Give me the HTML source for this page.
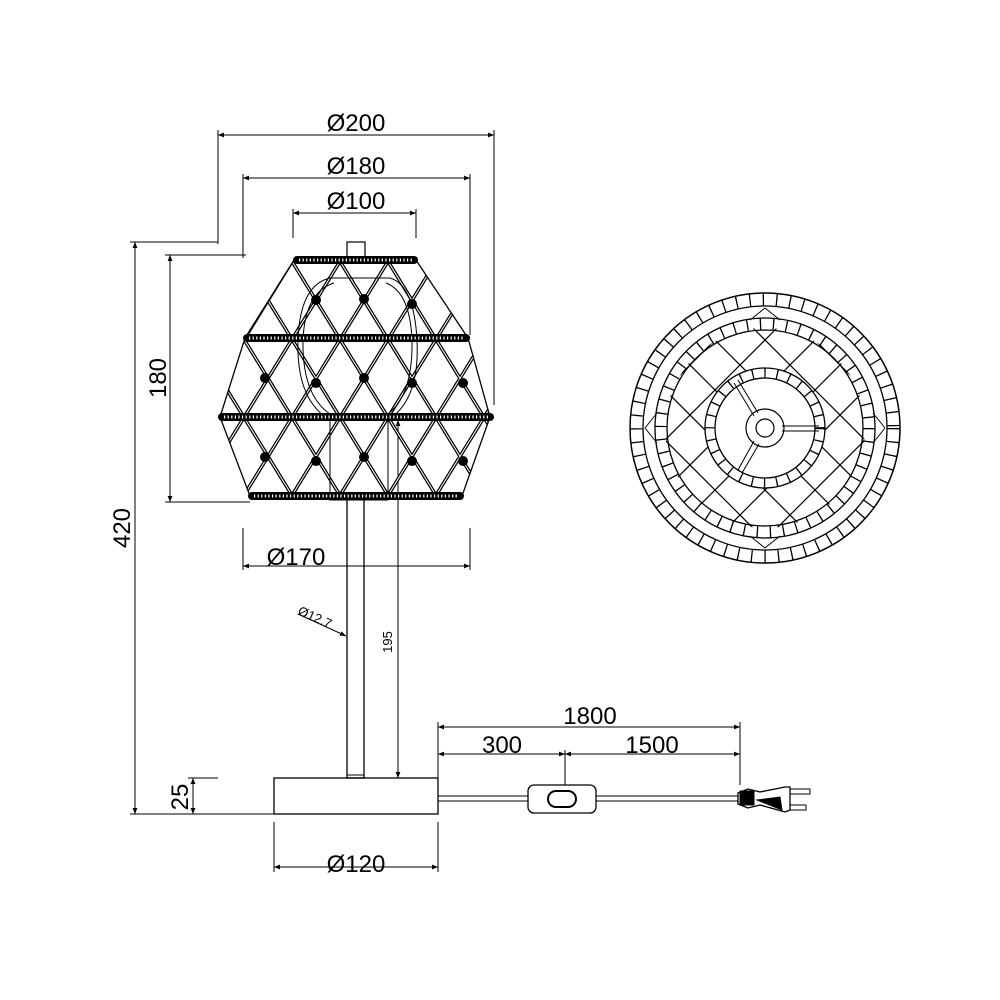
<!DOCTYPE html>
<html><head><meta charset="utf-8"><style>
html,body{margin:0;padding:0;background:#fff;}
svg{display:block;}
text{font-family:"Liberation Sans",sans-serif;fill:#000;}
</style></head><body>
<svg width="1000" height="1000" viewBox="0 0 1000 1000" xmlns="http://www.w3.org/2000/svg">
<defs>
<marker id="a" viewBox="0 0 10 10" refX="10" refY="5" markerWidth="9" markerHeight="6" orient="auto-start-reverse" markerUnits="userSpaceOnUse"><path d="M0,1 L10,5 L0,9 Z" fill="#000"/></marker>
<clipPath id="shade"><polygon points="294,260 245,338 220,417 250,496 462,496 490,417 468,338 416,260"/></clipPath>
<clipPath id="tv"><circle cx="765" cy="428" r="100"/></clipPath>
</defs>
<g stroke="#000" fill="none" stroke-width="1">
<line x1="218" y1="130" x2="218" y2="244"/><line x1="494" y1="130" x2="494" y2="405"/>
<line x1="218" y1="135" x2="494" y2="135" marker-start="url(#a)" marker-end="url(#a)"/>
<line x1="243" y1="174" x2="243" y2="258"/><line x1="470" y1="174" x2="470" y2="335"/>
<line x1="243" y1="178" x2="470" y2="178" marker-start="url(#a)" marker-end="url(#a)"/>
<line x1="293" y1="209" x2="293" y2="238"/><line x1="416" y1="209" x2="416" y2="238"/>
<line x1="293" y1="213" x2="416" y2="213" marker-start="url(#a)" marker-end="url(#a)"/>
<line x1="130" y1="242" x2="218" y2="242"/><line x1="130" y1="814" x2="274" y2="814"/>
<line x1="135" y1="242" x2="135" y2="814" marker-start="url(#a)" marker-end="url(#a)"/>
<line x1="165" y1="255" x2="246" y2="255"/><line x1="165" y1="502" x2="250" y2="502"/>
<line x1="170" y1="255" x2="170" y2="502" marker-start="url(#a)" marker-end="url(#a)"/>
<line x1="188" y1="778" x2="218" y2="778"/>
<line x1="193" y1="778" x2="193" y2="814" marker-start="url(#a)" marker-end="url(#a)"/>
<line x1="243" y1="528" x2="243" y2="570"/><line x1="470" y1="528" x2="470" y2="570"/>
<line x1="243" y1="566" x2="470" y2="566" marker-start="url(#a)" marker-end="url(#a)"/>
<line x1="364" y1="420" x2="402" y2="420"/>
<line x1="398" y1="420" x2="398" y2="778" marker-start="url(#a)" marker-end="url(#a)"/>
<line x1="298" y1="614" x2="346" y2="636" marker-end="url(#a)"/>
<line x1="274" y1="822" x2="274" y2="872"/><line x1="438" y1="822" x2="438" y2="872"/>
<line x1="274" y1="867" x2="438" y2="867" marker-start="url(#a)" marker-end="url(#a)"/>
<line x1="438" y1="722" x2="438" y2="790"/><line x1="740" y1="722" x2="740" y2="785"/>
<line x1="438" y1="727" x2="740" y2="727" marker-start="url(#a)" marker-end="url(#a)"/>
<line x1="438" y1="754" x2="565" y2="754" marker-start="url(#a)" marker-end="url(#a)"/>
<line x1="565" y1="754" x2="740" y2="754" marker-start="url(#a)" marker-end="url(#a)"/>
<line x1="565" y1="750" x2="565" y2="785"/>

<rect x="347" y="496" width="17" height="282" stroke-width="1.3"/>
<line x1="347" y1="775" x2="364" y2="775"/>
<rect x="274" y="778" width="164" height="36" stroke-width="1.3"/>
<line x1="438" y1="796" x2="528" y2="796"/><line x1="438" y1="801" x2="528" y2="801"/>
<line x1="596" y1="796" x2="738" y2="796"/><line x1="596" y1="801" x2="738" y2="801"/>
<rect x="528" y="785" width="68" height="28" rx="6" stroke-width="1.3"/>
<rect x="548" y="791" width="28" height="16" rx="8" stroke-width="2"/>
<path d="M738,793 L748,789 L760,792 L785,787 L790,787 L790,810 L785,812 L760,805 L748,808 L738,804 Z" stroke-width="1.3"/>
<rect x="740" y="791" width="14" height="14" fill="#000"/>
<path d="M757,800 L780,797 L782,810 Z" fill="#000"/>
<rect x="790" y="789" width="20" height="5"/><rect x="790" y="805" width="16" height="5"/>

<g clip-path="url(#shade)">
<g stroke-width="3.5">
<line x1="93" y1="250" x2="253" y2="510"/><line x1="141" y1="250" x2="301" y2="510"/><line x1="189" y1="250" x2="349" y2="510"/><line x1="237" y1="250" x2="397" y2="510"/><line x1="285" y1="250" x2="445" y2="510"/><line x1="333" y1="250" x2="493" y2="510"/><line x1="381" y1="250" x2="541" y2="510"/><line x1="429" y1="250" x2="589" y2="510"/>
<line x1="251" y1="250" x2="91" y2="510"/><line x1="299" y1="250" x2="139" y2="510"/><line x1="347" y1="250" x2="187" y2="510"/><line x1="395" y1="250" x2="235" y2="510"/><line x1="443" y1="250" x2="283" y2="510"/><line x1="491" y1="250" x2="331" y2="510"/><line x1="539" y1="250" x2="379" y2="510"/><line x1="587" y1="250" x2="427" y2="510"/><line x1="635" y1="250" x2="475" y2="510"/>
</g>
<g stroke="#fff" stroke-width="1">
<line x1="93" y1="250" x2="253" y2="510"/><line x1="141" y1="250" x2="301" y2="510"/><line x1="189" y1="250" x2="349" y2="510"/><line x1="237" y1="250" x2="397" y2="510"/><line x1="285" y1="250" x2="445" y2="510"/><line x1="333" y1="250" x2="493" y2="510"/><line x1="381" y1="250" x2="541" y2="510"/><line x1="429" y1="250" x2="589" y2="510"/>
<line x1="251" y1="250" x2="91" y2="510"/><line x1="299" y1="250" x2="139" y2="510"/><line x1="347" y1="250" x2="187" y2="510"/><line x1="395" y1="250" x2="235" y2="510"/><line x1="443" y1="250" x2="283" y2="510"/><line x1="491" y1="250" x2="331" y2="510"/><line x1="539" y1="250" x2="379" y2="510"/><line x1="587" y1="250" x2="427" y2="510"/><line x1="635" y1="250" x2="475" y2="510"/>
</g>
</g>
<polygon points="294,260 245,338 220,417 250,496 462,496 490,417 468,338 416,260" stroke-width="1.3"/>
<path d="M330,278 Q300,285 298,340 Q296,400 330,420 L330,500 L388,500 L388,420 Q420,400 417,340 Q414,285 390,278 Z" stroke-width="1"/>
<path d="M334,283 Q305,292 303,340 Q302,395 330,414 M388,414 Q413,395 412,340 Q410,292 386,283"/>
<rect x="347" y="242" width="18" height="18" fill="#fff" stroke-width="1.2"/>
<g fill="#000" stroke="none">
<circle cx="316" cy="300" r="5"/><circle cx="364" cy="299" r="5"/><circle cx="412" cy="304" r="5"/>
<circle cx="265" cy="378" r="5"/><circle cx="316" cy="383" r="5"/><circle cx="364" cy="378" r="5"/><circle cx="412" cy="383" r="5"/><circle cx="463" cy="383" r="5"/>
<circle cx="265" cy="457" r="5"/><circle cx="316" cy="461" r="5"/><circle cx="364" cy="457" r="5"/><circle cx="412" cy="461" r="5"/><circle cx="463" cy="461" r="5"/>
</g>
<g stroke-linecap="round">
<line x1="297" y1="260" x2="414" y2="260" stroke-width="8"/>
<line x1="247" y1="338" x2="466" y2="338" stroke-width="8"/>
<line x1="222" y1="417" x2="490" y2="417" stroke-width="8"/>
<line x1="252" y1="496" x2="460" y2="496" stroke-width="8"/>
</g>
<g stroke="#fff" stroke-width="3" stroke-dasharray="1.2 2.4">
<line x1="299" y1="260" x2="412" y2="260"/>
<line x1="249" y1="338" x2="464" y2="338"/>
<line x1="224" y1="417" x2="488" y2="417"/>
<line x1="254" y1="496" x2="458" y2="496"/>
</g>

<g clip-path="url(#tv)" stroke-width="1.2">
<line x1="765" y1="290" x2="905" y2="430"/><line x1="715" y1="290" x2="905" y2="480"/><line x1="665" y1="290" x2="905" y2="530"/><line x1="625" y1="300" x2="905" y2="580"/><line x1="625" y1="350" x2="900" y2="625"/><line x1="625" y1="400" x2="850" y2="625"/><line x1="625" y1="450" x2="800" y2="625"/><line x1="625" y1="500" x2="750" y2="625"/>
<line x1="765" y1="290" x2="625" y2="430"/><line x1="815" y1="290" x2="625" y2="480"/><line x1="865" y1="290" x2="625" y2="530"/><line x1="905" y1="300" x2="625" y2="580"/><line x1="905" y1="350" x2="630" y2="625"/><line x1="905" y1="400" x2="680" y2="625"/><line x1="905" y1="450" x2="730" y2="625"/><line x1="905" y1="500" x2="780" y2="625"/>
</g>
<path d="M765,308 L750,320 M765,308 L780,320 M765,548 L750,536 M765,548 L780,536 M645,428 L657,413 M645,428 L657,443 M885,428 L873,413 M885,428 L873,443"/>
<circle cx="765" cy="428" r="135" stroke-width="1.5"/><circle cx="765" cy="428" r="122" stroke-width="1.3"/>
<circle cx="765" cy="428" r="128.5" stroke-width="13" stroke-dasharray="1.3 12.1"/>
<circle cx="765" cy="428" r="110" stroke-width="1.3"/><circle cx="765" cy="428" r="98" stroke-width="1.3"/>
<circle cx="765" cy="428" r="104" stroke-width="12" stroke-dasharray="1.3 11.8"/>
<circle cx="765" cy="428" r="60" fill="#fff" stroke-width="1.3"/><circle cx="765" cy="428" r="50" stroke-width="1.3"/>
<circle cx="765" cy="428" r="55" stroke-width="10" stroke-dasharray="1.3 11"/>
<circle cx="765" cy="428" r="19" stroke-width="1.2"/><circle cx="765" cy="428" r="9" stroke-width="1.2"/>
<path d="M782,426 L819,426 M782,431 L819,431"/>
<path d="M758,413 L738,380 M754,416 L734,383"/>
<path d="M754,441 L738,470 M759,444 L742,473"/>
</g>

<g font-size="24">
<text x="356" y="131" text-anchor="middle">Ø200</text>
<text x="356" y="174" text-anchor="middle">Ø180</text>
<text x="356" y="209" text-anchor="middle">Ø100</text>
<text x="296" y="565" text-anchor="middle">Ø170</text>
<text x="356" y="872" text-anchor="middle">Ø120</text>
<text x="590" y="724" text-anchor="middle">1800</text>
<text x="502" y="753" text-anchor="middle">300</text>
<text x="652" y="753" text-anchor="middle">1500</text>
<text transform="translate(130,528) rotate(-90)" text-anchor="middle">420</text>
<text transform="translate(166,378) rotate(-90)" text-anchor="middle">180</text>
<text transform="translate(188,797) rotate(-90)" text-anchor="middle">25</text>
</g>
<text font-size="13" transform="translate(392,642) rotate(-90)" text-anchor="middle">195</text>
<text font-size="13" transform="translate(297,614) rotate(24)">Ø12.7</text>
</svg>
</body></html>
